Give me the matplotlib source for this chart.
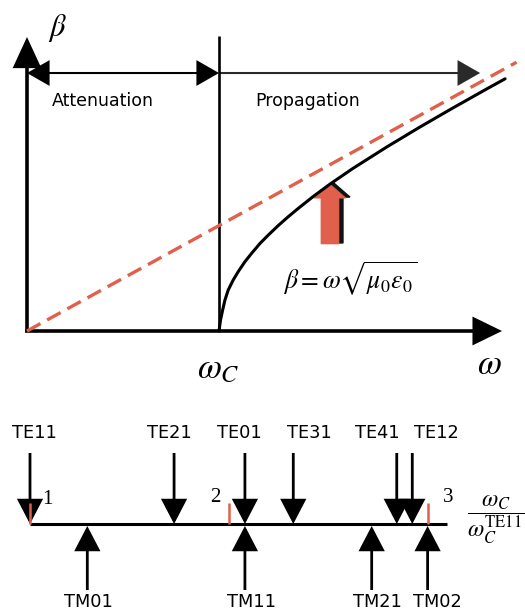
import numpy as np
import matplotlib
matplotlib.use('Agg')
import matplotlib.pyplot as plt
from matplotlib.patches import FancyArrowPatch, FancyArrow
from matplotlib.transforms import offset_copy

plt.rcParams['mathtext.fontset'] = 'stix'

# --- dispersion diagram (omega in units of omega_c) ---
w_curve = [1.000, 1.008, 1.019, 1.031, 1.048, 1.074, 1.100, 1.135, 1.170, 1.214, 1.257,
           1.309, 1.361, 1.411, 1.490, 1.578, 1.698, 1.875, 2.047, 2.219, 2.396, 2.490]
b_curve = [0.000, 0.105, 0.200, 0.295, 0.390, 0.486, 0.565, 0.660, 0.740, 0.835, 0.914,
           1.005, 1.089, 1.165, 1.280, 1.399, 1.549, 1.754, 1.943, 2.125, 2.307, 2.402]
w_light = [0.0, 2.55]
b_light = [0.0, 2.56]
w_cut = 1.0
i_mark = 15                              # curve point picked out by the block arrow

# --- cutoff ratios w_c / w_c(TE11) ---
te_modes = ['TE11', 'TE21', 'TE01', 'TE31', 'TE41', 'TE12']
te_ratio = [1.00, 1.724, 2.080, 2.323, 2.843, 2.921]
tm_modes = ['TM01', 'TM11', 'TM21', 'TM02']
tm_ratio = [1.288, 2.080, 2.717, 2.998]
ticks = [1, 2, 3]

# label nudges (pixels) so neighbouring names don't collide
te_dx = [4, -5, -6, 16, -19, 24]
tm_dx = [1, 7, 6, 10]

RED = '#E0604C'
fig = plt.figure(figsize=(5.25, 6.16), dpi=100)

# ---------------- top: beta vs omega ----------------
ax = fig.add_axes([0, 216/616, 1, 400/616])
ax.set_xlim(-27/192, 498/192)
ax.set_ylim(-69/105, 331/105)
ax.axis('off')

def arrow(a, p0, p1, hl, hw, lw, color='black', style='-|>'):
    a.add_patch(FancyArrowPatch(p0, p1, arrowstyle=f'{style},head_length={hl},head_width={hw}',
                                mutation_scale=1, shrinkA=0, shrinkB=0, lw=lw,
                                color=color, joinstyle='miter', capstyle='butt'))

arrow(ax, (0, -0.01), (0, 2.80), 18, 8.3, 2.6)
arrow(ax, (-0.01, 0), (2.474, 0), 17, 8.3, 2.6)
ax.plot([w_cut, w_cut], [0, 2.81], color='black', lw=1.9, solid_capstyle='butt')
arrow(ax, (0, 2.457), (w_cut, 2.457), 14, 8, 1.5, style='<|-|>')
arrow(ax, (w_cut, 2.457), (2.36, 2.457), 14, 8, 1.5, color='#2a2a2a')

ax.plot(w_light, b_light, color=RED, lw=2.4, dashes=(4.6, 2.3))
ax.plot(w_curve, b_curve, color='black', lw=2.2, solid_capstyle='round', solid_joinstyle='round')

# block arrow with a dark drop shadow
w_mark, b_mark = w_curve[i_mark], b_curve[i_mark]
base = b_mark - 0.57
kw = dict(width=18/192, head_width=32/192, head_length=14/105, length_includes_head=True)
shadow = offset_copy(ax.transData, fig=fig, x=4, y=1, units='dots')
ax.add_patch(FancyArrow(w_mark, base, 0, b_mark - base, color='#111111', transform=shadow, **kw))
ax.add_patch(FancyArrow(w_mark, base, 0, b_mark - base, facecolor=RED, edgecolor=RED, lw=0.5, **kw))

ax.text(0.396, 2.19, 'Attenuation', fontsize=12.5, ha='center', va='center')
ax.text(1.464, 2.19, 'Propagation', fontsize=12.5, ha='center', va='center')
ax.text(0.156, 2.89, r'$\beta$', fontsize=22, ha='center', va='center')
ax.text(2.41, -0.31, r'$\omega$', fontsize=25, ha='center', va='center')
ax.text(0.995, -0.35, r'$\omega_C$', fontsize=25, ha='center', va='center')
ax.text(1.682, 0.50, r'$\beta=\omega\sqrt{\mu_0\varepsilon_0}$', fontsize=18.5, ha='center', va='center')

# ---------------- bottom: mode cutoff scale ----------------
bx = fig.add_axes([0, 0, 1, 216/616])
bx.set_xlim(1 - 30/199, 1 + 495/199)
bx.set_ylim(-92, 124)
bx.axis('off')

bx.plot([1.0, 3.095], [0, 0], color='black', lw=2.2, solid_capstyle='butt')
for r, name, dx in zip(te_ratio, te_modes, te_dx):
    arrow(bx, (r, 71), (r, 0), 15, 7.8, 2.0)
    bx.annotate(name, (r, 91), xytext=(dx * 0.72, 0), textcoords='offset points',
                fontsize=12.8, ha='center', va='center')
for r, name, dx in zip(tm_ratio, tm_modes, tm_dx):
    arrow(bx, (r, -66), (r, -2), 15, 7.8, 2.0)
    bx.annotate(name, (r, -78), xytext=(dx * 0.72, 0), textcoords='offset points',
                fontsize=12.8, ha='center', va='center')
for t in ticks:
    bx.plot([t, t], [0, 21], color=RED, lw=1.8, solid_capstyle='butt')
for t, (dx, dy) in zip(ticks, [(17, 24), (-14, 26), (20, 26)]):
    bx.annotate(str(t), (t, dy), xytext=(dx * 0.72, 0), textcoords='offset points',
                fontsize=15, family='Liberation Serif', ha='center', va='center')
bx.text(3.195, 4, r'$\dfrac{\omega_C}{\omega_C^{\mathrm{TE11}}}$', fontsize=17,
        ha='left', va='center')

fig.savefig('out.png', dpi=100, facecolor='white')
